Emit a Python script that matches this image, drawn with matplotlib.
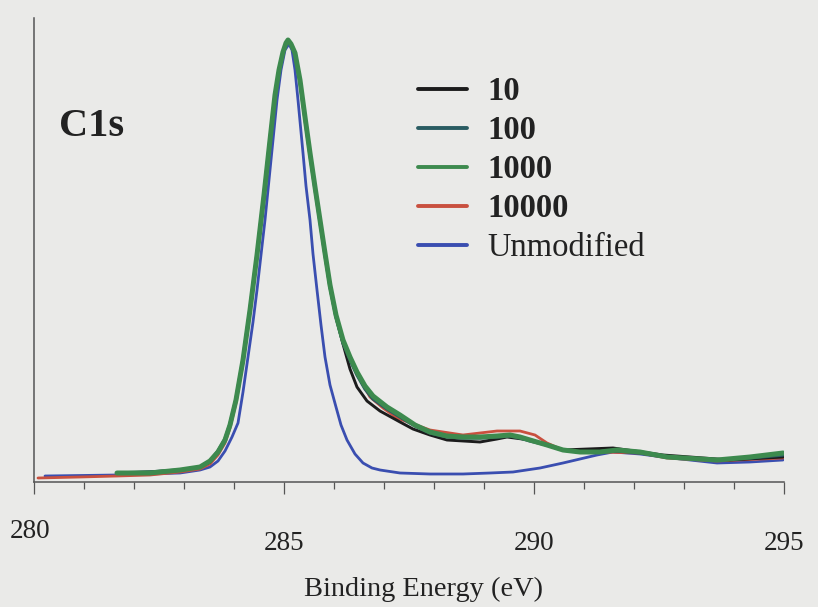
import matplotlib
matplotlib.use("Agg")
import matplotlib.pyplot as plt
from matplotlib.ticker import MultipleLocator, FixedLocator
from matplotlib.transforms import ScaledTranslation

# ---- data (binding energy in eV, intensity in arbitrary units) ----
e_1000 = [281.66, 282.32, 282.92, 283.32, 283.52, 283.68, 283.82, 283.92, 284.04, 284.18,
          284.32, 284.46, 284.60, 284.72, 284.82, 284.90, 284.98, 285.04, 285.08, 285.14,
          285.22, 285.32, 285.42, 285.52, 285.62, 285.72, 285.82, 285.92, 286.04, 286.18,
          286.32, 286.46, 286.62, 286.78, 287.06, 287.32, 287.62, 287.92, 288.26, 288.58,
          288.92, 289.26, 289.52, 289.72, 289.92, 290.26, 290.58, 290.92, 291.32, 291.66,
          292.12, 292.66, 293.66, 294.32, 294.98]
i_1000 = [9, 9, 12, 15, 21, 30, 42, 57, 82, 122,
          172, 227, 287, 342, 387, 412, 430, 439, 442, 438,
          429, 402, 365, 329, 295, 262, 229, 197, 167, 142,
          125, 110, 96, 86, 75, 67, 57, 50, 46, 45,
          45, 46, 47, 45, 42, 37, 32, 30, 30, 32,
          30, 25, 22, 25, 29]

e_100 = [281.66, 282.32, 282.92, 283.32, 283.52, 283.68, 283.82, 283.92, 284.04, 284.18,
         284.32, 284.46, 284.60, 284.72, 284.82, 284.90, 284.98, 285.04, 285.08, 285.14,
         285.22, 285.32, 285.42, 285.52, 285.62, 285.72, 285.82, 285.92, 286.04, 286.18,
         286.32, 286.46, 286.62, 286.78, 287.06, 287.32, 287.62, 287.92, 288.26, 288.58,
         288.92, 289.26, 289.52, 289.72, 289.92, 290.26, 290.58, 290.92, 291.32, 291.66,
         292.12, 292.66, 293.66, 294.32, 294.98]
i_100 = [9, 10, 12, 15, 21, 31, 43, 58, 83, 123,
         173, 228, 288, 343, 387, 412, 430, 438, 441, 437,
         428, 400, 363, 327, 293, 260, 227, 195, 165, 139,
         122, 107, 93, 83, 73, 65, 56, 49, 45, 44,
         44, 45, 46, 44, 41, 37, 32, 30, 30, 31,
         29, 25, 22, 24, 27]

e_10 = [281.66, 282.32, 282.92, 283.32, 283.52, 283.68, 283.82, 283.92, 284.04, 284.18,
        284.32, 284.46, 284.60, 284.72, 284.82, 284.90, 284.98, 285.04, 285.08, 285.14,
        285.22, 285.32, 285.42, 285.52, 285.62, 285.72, 285.82, 285.92, 286.04, 286.18,
        286.32, 286.46, 286.66, 286.92, 287.32, 287.58, 287.92, 288.26, 288.92, 289.26,
        289.46, 289.92, 290.58, 291.58, 292.58, 293.92, 294.98]
i_10 = [9, 10, 12, 15, 20, 30, 42, 57, 82, 122,
        172, 227, 287, 342, 387, 412, 430, 439, 442, 438,
        429, 402, 365, 329, 295, 261, 227, 195, 165, 138,
        113, 95, 81, 71, 60, 53, 47, 42, 40, 43,
        45, 42, 32, 34, 27, 22, 25]

e_10000 = [280.08, 280.92, 281.66, 282.32, 282.92, 283.32, 283.52, 283.68, 283.82, 283.92,
           284.04, 284.18, 284.32, 284.46, 284.60, 284.72, 284.82, 284.90, 284.98, 285.04,
           285.08, 285.14, 285.22, 285.32, 285.42, 285.52, 285.62, 285.72, 285.82, 285.92,
           286.04, 286.18, 286.32, 286.46, 286.72, 286.98, 287.26, 287.92, 288.58, 289.26,
           289.72, 290.02, 290.26, 290.58, 291.32, 292.12, 292.66, 293.66, 294.98]
i_10000 = [4, 5, 6, 7, 10, 13, 18, 27, 39, 54,
           79, 119, 170, 225, 286, 341, 386, 411, 429, 438,
           441, 437, 428, 401, 364, 328, 294, 261, 228, 196,
           166, 142, 125, 108, 85, 74, 64, 52, 47, 51,
           51, 47, 39, 32, 30, 29, 24, 21, 24]

e_unmod = [280.22, 281.66, 282.92, 283.32, 283.52, 283.68, 283.82, 283.96, 284.08, 284.18,
           284.28, 284.38, 284.46, 284.54, 284.62, 284.70, 284.76, 284.86, 284.94, 285.02,
           285.10, 285.16, 285.22, 285.28, 285.38, 285.44, 285.52, 285.58, 285.66, 285.74,
           285.82, 285.92, 286.04, 286.14, 286.26, 286.42, 286.58, 286.76, 286.92, 287.32,
           287.92, 288.58, 289.12, 289.58, 290.12, 290.58, 290.92, 291.26, 291.58, 292.12,
           292.58, 293.12, 293.66, 294.32, 294.98]
i_unmod = [6, 7, 9, 12, 15, 21, 31, 45, 59, 90,
           125, 160, 192, 227, 262, 302, 332, 382, 412, 432,
           438, 432, 412, 382, 329, 296, 262, 228, 192, 157,
           125, 97, 75, 57, 42, 28, 19, 14, 12, 9,
           8, 8, 9, 10, 14, 19, 23, 27, 30, 28,
           25, 22, 19, 20, 22]

series = [
    ("10", e_10, i_10, "#1c1c1c", 2.1, "bold"),
    ("100", e_100, i_100, "#2a5c62", 2.4, "bold"),
    ("1000", e_1000, i_1000, "#3d8a4e", 3.6, "bold"),
    ("10000", e_10000, i_10000, "#c9503f", 2.0, "bold"),
    ("Unmodified", e_unmod, i_unmod, "#3a4eb0", 2.0, "normal"),
]
draw_order = [4, 3, 0, 1, 2]

xticks_major = [280, 285, 290, 295]
xtick_labels = ["280", "285", "290", "295"]

BG = "#eaeae8"
INK = "#222222"

fig = plt.figure(figsize=(8.18, 6.07), dpi=100, facecolor=BG)
ax = fig.add_axes([34 / 818, 1 - 482 / 607, 750 / 818, 464 / 607])
ax.set_facecolor(BG)

handles = {}
for k in draw_order:
    name, xs, ys, col, lw, _ = series[k]
    (ln,) = ax.plot(xs, ys, color=col, lw=lw, solid_capstyle="round", solid_joinstyle="round")
    handles[k] = ln

ax.set_xlim(280, 295)
ax.set_ylim(0, 464)

for s in ["top", "right"]:
    ax.spines[s].set_visible(False)
for s in ["left", "bottom"]:
    ax.spines[s].set_color("#555555")
    ax.spines[s].set_linewidth(1.1)
ax.yaxis.set_visible(False)

ax.xaxis.set_major_locator(FixedLocator(xticks_major))
ax.xaxis.set_minor_locator(MultipleLocator(1))
ax.set_xticklabels(xtick_labels, fontfamily="Liberation Serif", fontsize=19.5, color=INK)
ax.tick_params(axis="x", which="major", direction="out", length=8.5, width=0.9,
               color="#555555", pad=27)
ax.tick_params(axis="x", which="minor", direction="out", length=5, width=0.9, color="#555555")

# first label sits higher
lbl0 = ax.get_xticklabels()[0]
lbl0.set_transform(lbl0.get_transform() + ScaledTranslation(-4 / 100, 12 / 100, fig.dpi_scale_trans))

ax.set_xlabel("Binding Energy (eV)", fontfamily="Liberation Serif", fontsize=20.4,
              color=INK, labelpad=10)
ax.xaxis.set_label_coords(0.519, -0.205)

fig.text(92 / 818, 1 - 127 / 607, "C1s", fontfamily="Liberation Serif", fontsize=29,
         fontweight="bold", color=INK, ha="center", va="center")

leg = ax.legend([handles[k] for k in range(5)], [series[k][0] for k in range(5)],
                loc="upper left", bbox_to_anchor=(418 / 818, 1 - 76 / 607),
                bbox_transform=fig.transFigure, frameon=False,
                prop={"family": "Liberation Serif", "size": 23.5},
                handlelength=1.5, handletextpad=0.64, labelspacing=0.25,
                borderpad=0, borderaxespad=0)
for k, txt in enumerate(leg.get_texts()):
    txt.set_fontweight(series[k][5])
    txt.set_color(INK)
for k, lh in enumerate(leg.get_lines()):
    lh.set_linewidth(2.8)

fig.savefig("out.png", dpi=100, facecolor=BG)
